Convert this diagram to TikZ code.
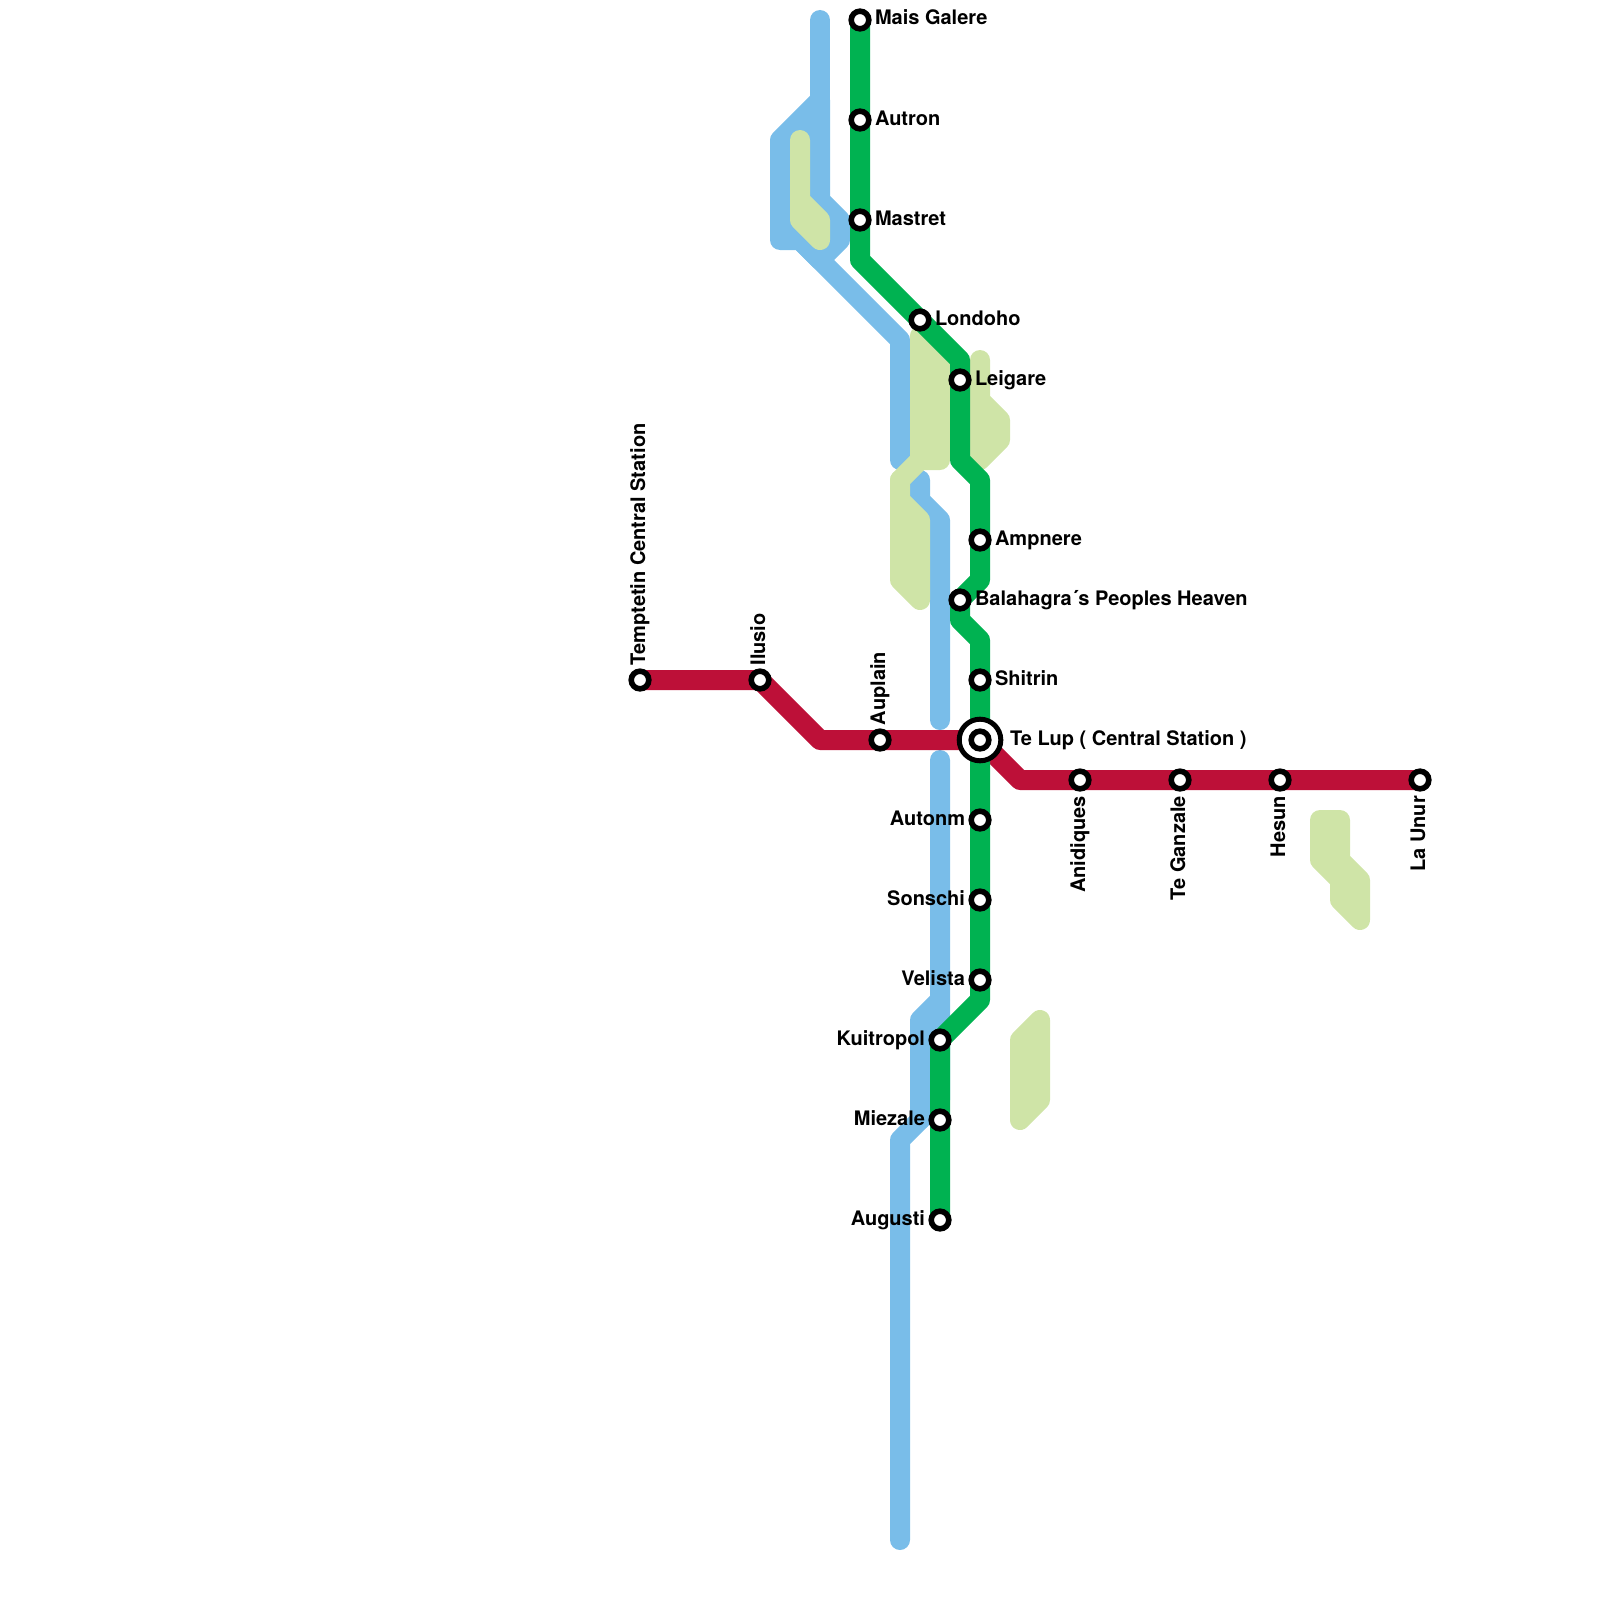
\documentclass[tikz,border=0pt]{standalone}
\usepackage{fontspec}
\setmainfont{TeX Gyre Heros}
\definecolor{lblue}{HTML}{79BDE9}
\definecolor{lgreen}{HTML}{00B251}
\definecolor{lred}{HTML}{BD1038}
\definecolor{lpale}{HTML}{CFE4A7}
\tikzset{
  route/.style={line width=20pt,line cap=round,line join=round},
  bluer/.style={route,draw=lblue},
  greenr/.style={route,draw=lgreen},
  redr/.style={route,draw=lred},
  pale/.style={route,draw=lpale},
  palefill/.style={route,draw=lpale,fill=lpale},
  bluefill/.style={route,draw=lblue,fill=lblue},
  stn/.style={circle,draw=black,fill=white,line width=5.6pt,minimum size=17.6pt,inner sep=0pt,outer sep=0pt},
  hub/.style={circle,draw=black,fill=white,line width=5pt,minimum size=41.6pt,inner sep=0pt,outer sep=0pt},
  lab/.style={inner sep=0pt,outer sep=0pt,font=\fontsize{20pt}{24pt}\selectfont\bfseries,text=black},
  labr/.style={lab,anchor=base west},
  labl/.style={lab,anchor=base east},
  labu/.style={lab,rotate=90,anchor=base west},
  labd/.style={lab,rotate=90,anchor=base east},
}
\begin{document}
\begin{tikzpicture}[x=1pt,y=-1pt]
\useasboundingbox (0,0) rectangle (1600,1600);
% station positions
\coordinate (cMais) at (860,20);
\coordinate (cAutron) at (860,120);
\coordinate (cMastret) at (860,220);
\coordinate (cLondoho) at (920,320);
\coordinate (cLeigare) at (960,380);
\coordinate (cAmpnere) at (980,540);
\coordinate (cBala) at (960,600);
\coordinate (cShitrin) at (980,680);
\coordinate (cTeLup) at (980,740);
\coordinate (cAutonm) at (980,820);
\coordinate (cSonschi) at (980,900);
\coordinate (cVelista) at (980,980);
\coordinate (cKuit) at (940,1040);
\coordinate (cMiezale) at (940,1120);
\coordinate (cAugusti) at (940,1220);
\coordinate (cTemp) at (640,680);
\coordinate (cIlusio) at (760,680);
\coordinate (cAuplain) at (880,740);
\coordinate (cAnid) at (1080,780);
\coordinate (cGanz) at (1180,780);
\coordinate (cHesun) at (1280,780);
\coordinate (cUnur) at (1420,780);
% blue line
\draw[bluer] (820,20) -- (820,200);
\draw[bluefill] (820,100) -- (780,140) -- (780,240) -- (800,240) -- (820,260) -- (840,240) -- (840,220) -- (820,200) -- cycle;
\draw[bluer] (800,240) -- (900,340) -- (900,460);
\draw[bluer] (920,480) -- (920,500) -- (940,520) -- (940,720);
\draw[bluer] (940,760) -- (940,1100) -- (900,1140) -- (900,1540);
\draw[bluer] (940,1000) -- (920,1020) -- (920,1120);
% pale areas
\draw[palefill] (800,140) -- (800,220) -- (820,240) -- (820,220) -- (800,200) -- cycle;
\draw[palefill] (920,336) -- (920,460) -- (940,460) -- (940,360) -- cycle;
\draw[pale] (920,460) -- (900,480);
\draw[palefill] (900,480) -- (900,580) -- (920,600) -- (920,520) -- (900,500) -- cycle;
\draw[palefill] (980,360) -- (980,400) -- (1000,420) -- (1000,440) -- (980,460) -- cycle;
\draw[palefill] (1020,1040) -- (1040,1020) -- (1040,1100) -- (1020,1120) -- cycle;
\draw[palefill] (1320,820) -- (1340,820) -- (1340,860) -- (1360,880) -- (1360,920) -- (1340,900) -- (1340,880) -- (1320,860) -- cycle;
% red line
\draw[redr] (cTemp) -- (cIlusio) -- (820,740) -- (cAuplain) -- (cTeLup) -- (1020,780) -- (cAnid) -- (cGanz) -- (cHesun) -- (cUnur);
% green line
\draw[greenr] (cMais) -- (cAutron) -- (cMastret) -- (860,260) -- (cLondoho) -- (960,360) -- (cLeigare) -- (960,460) -- (980,480) -- (cAmpnere) -- (980,580) -- (cBala) -- (960,620) -- (980,640) -- (cShitrin) -- (cTeLup) -- (cAutonm) -- (cSonschi) -- (cVelista) -- (980,1000) -- (cKuit) -- (cMiezale) -- (cAugusti);
% stations
\node[stn] (Mais) at (cMais) {};
\node[stn] (Autron) at (cAutron) {};
\node[stn] (Mastret) at (cMastret) {};
\node[stn] (Londoho) at (cLondoho) {};
\node[stn] (Leigare) at (cLeigare) {};
\node[stn] (Ampnere) at (cAmpnere) {};
\node[stn] (Bala) at (cBala) {};
\node[stn] (Shitrin) at (cShitrin) {};
\node[hub] (TeLupOuter) at (cTeLup) {};
\node[stn] (TeLup) at (cTeLup) {};
\node[stn] (Autonm) at (cAutonm) {};
\node[stn] (Sonschi) at (cSonschi) {};
\node[stn] (Velista) at (cVelista) {};
\node[stn] (Kuit) at (cKuit) {};
\node[stn] (Miezale) at (cMiezale) {};
\node[stn] (Augusti) at (cAugusti) {};
\node[stn] (Temp) at (cTemp) {};
\node[stn] (Ilusio) at (cIlusio) {};
\node[stn] (Auplain) at (cAuplain) {};
\node[stn] (Anid) at (cAnid) {};
\node[stn] (Ganz) at (cGanz) {};
\node[stn] (Hesun) at (cHesun) {};
\node[stn] (Unur) at (cUnur) {};
% labels
\node[labr] (lMais) at (875,25) {Mais Galere};
\node[labr] (lAutron) at (875,125) {Autron};
\node[labr] (lMastret) at (875,225) {Mastret};
\node[labr] (lLondoho) at (935,325) {Londoho};
\node[labr] (lLeigare) at (975,385) {Leigare};
\node[labr] (lAmpnere) at (995,545) {Ampnere};
\node[labr] (lBala) at (975,605) {Balahagra´s Peoples Heaven};
\node[labr] (lShitrin) at (995,685) {Shitrin};
\node[labr] (lTeLup) at (1010,745) {Te Lup ( Central Station )};
\node[labl] (lAutonm) at (965,825) {Autonm};
\node[labl] (lSonschi) at (965,905) {Sonschi};
\node[labl] (lVelista) at (965,985) {Velista};
\node[labl] (lKuit) at (925,1045) {Kuitropol};
\node[labl] (lMiezale) at (925,1125) {Miezale};
\node[labl] (lAugusti) at (925,1225) {Augusti};
\node[labu] (lTemp) at (645,665.5) {Temptetin Central Station};
\node[labu] (lIlusio) at (765,665.5) {Ilusio};
\node[labu] (lAuplain) at (885,725) {Auplain};
\node[labd] (lAnid) at (1085,796) {Anidiques};
\node[labd] (lGanz) at (1185,796) {Te Ganzale};
\node[labd] (lHesun) at (1285,796) {Hesun};
\node[labd] (lUnur) at (1425,796) {La Unur};
\end{tikzpicture}
\end{document}
